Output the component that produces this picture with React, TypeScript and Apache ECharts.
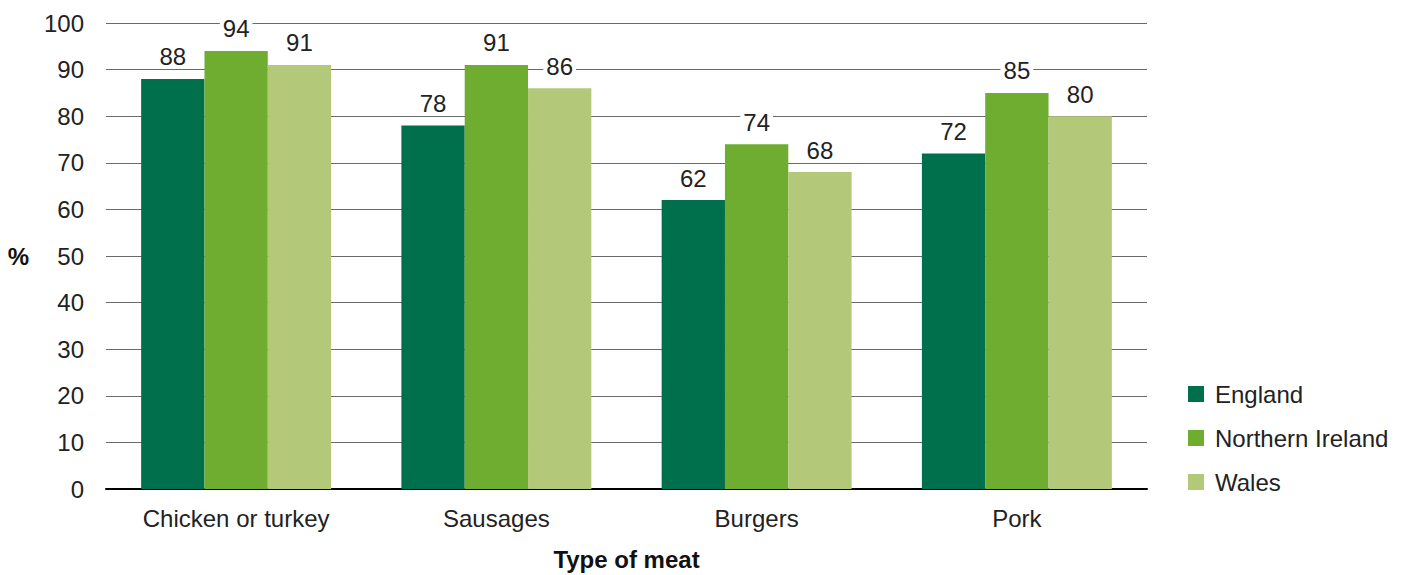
import React, { useEffect, useRef } from "react";
import * as echarts from "echarts";

const categories = ["Chicken or turkey", "Sausages", "Burgers", "Pork"];
const england = [88, 78, 62, 72];
const northernIreland = [94, 91, 74, 85];
const wales = [91, 86, 68, 80];
const seriesNames = ["England", "Northern Ireland", "Wales"];
const colors = ["#006F4B", "#6EAD2F", "#B4C87A"];

const FONT = "Arial, Liberation Sans, sans-serif";

export default function App() {
  const ref = useRef<HTMLDivElement>(null);
  useEffect(() => {
    if (!ref.current) return;
    const chart = echarts.init(ref.current, undefined, { renderer: "svg" });
    const dataSets = [england, northernIreland, wales];
    chart.setOption({
      animation: false,
      textStyle: { fontFamily: FONT },
      grid: { left: 106, width: 1041, top: 23, height: 466, outerBoundsMode: "none", containLabel: false },
      legend: {
        orient: "vertical",
        left: 1183,
        top: 377,
        itemWidth: 16,
        itemHeight: 16,
        itemGap: 20,
        icon: "rect",
        textStyle: { fontSize: 24, color: "#222", fontFamily: FONT, padding: [0, 0, 0, 6] },
        data: seriesNames,
      },
      xAxis: {
        type: "category",
        data: categories,
        name: "Type of meat",
        nameLocation: "middle",
        nameGap: 58,
        nameTextStyle: { fontSize: 24, fontWeight: "bold", color: "#111", fontFamily: FONT },
        axisLine: { lineStyle: { color: "#000", width: 2 } },
        axisTick: { show: false },
        axisLabel: { fontSize: 24, color: "#222", margin: 17, fontFamily: FONT },
      },
      yAxis: {
        type: "value",
        min: 0,
        max: 100,
        interval: 10,
        name: "%",
        nameLocation: "middle",
        nameRotate: 0,
        nameGap: 77,
        nameTextStyle: { fontSize: 24, fontWeight: "bold", color: "#111", fontFamily: FONT },
        axisLine: { show: false },
        axisTick: { show: false },
        axisLabel: { fontSize: 24, color: "#222", margin: 22, fontFamily: FONT },
        splitLine: { lineStyle: { color: "#6a6a6a", width: 1 } },
      },
      series: dataSets.map((d, i) => ({
        type: "bar",
        name: seriesNames[i],
        data: d,
        barGap: "0%",
        barCategoryGap: "27%",
        itemStyle: { color: colors[i] },
        label: {
          show: true,
          position: "top",
          distance: 10,
          fontSize: 24,
          color: "#222",
          fontFamily: FONT,
          backgroundColor: "#fff",
          padding: [1, 3, 0, 3],
        },
      })),
    });
    return () => chart.dispose();
  }, []);
  return (
    <div
      ref={ref}
      style={{ position: "fixed", left: 0, top: 0, width: 1406, height: 575, background: "#fff" }}
    />
  );
}
